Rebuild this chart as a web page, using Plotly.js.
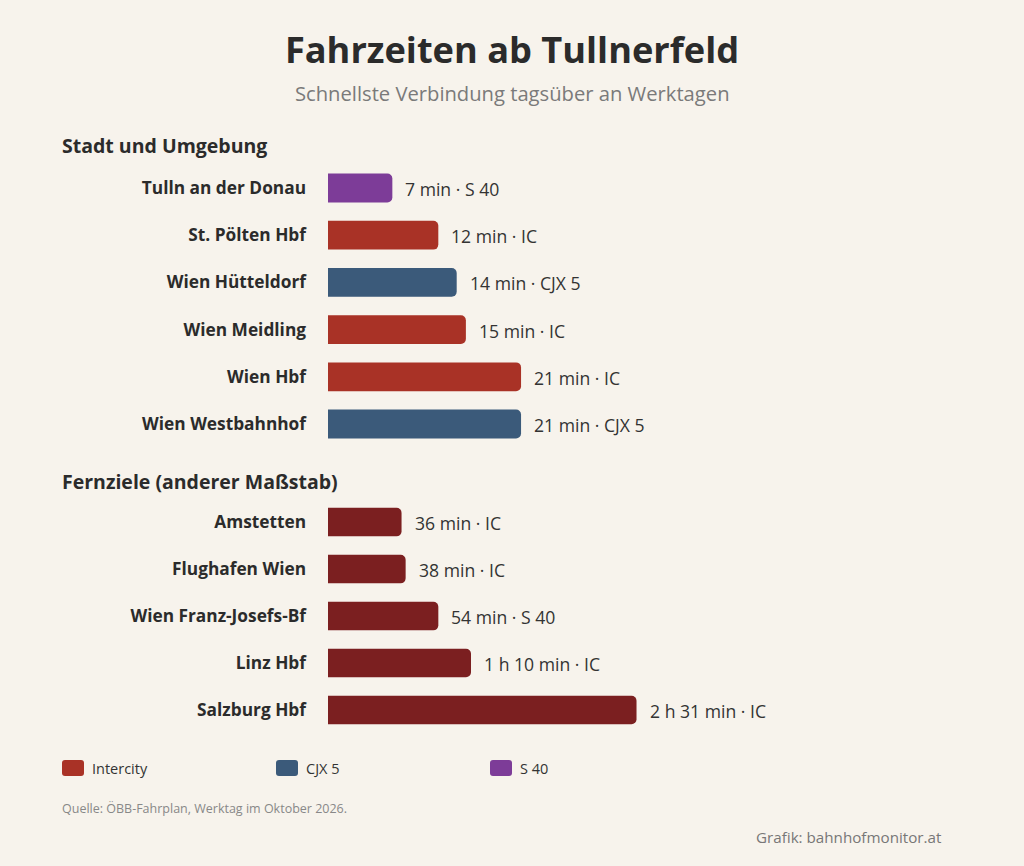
<!DOCTYPE html>
<html>
<head>
<meta charset="utf-8">
<script src="https://cdn.plot.ly/plotly-3.0.1.min.js"></script>
<style>
  html, body { margin: 0; padding: 0; background: #f7f3ec; }
  #chart { width: 1024px; height: 866px; }
</style>
</head>
<body>
<div id="chart"></div>
<script>
// Stations near Tullnerfeld: fastest weekday connection in minutes
const nearStations = ["Tulln an der Donau", "St. Pölten Hbf", "Wien Hütteldorf", "Wien Meidling", "Wien Hbf", "Wien Westbahnhof"];
const nearMinutes = [7, 12, 14, 15, 21, 21];
const nearLines = ["S 40", "IC", "CJX 5", "IC", "IC", "CJX 5"];

// Long-distance destinations (own scale)
const farStations = ["Amstetten", "Flughafen Wien", "Wien Franz-Josefs-Bf", "Linz Hbf", "Salzburg Hbf"];
const farMinutes = [36, 38, 54, 70, 151];
const farLines = ["IC", "IC", "S 40", "IC", "IC"];

// Service types shown in the legend
const serviceCodes = ["IC", "CJX 5", "S 40"];
const serviceNames = ["Intercity", "CJX 5", "S 40"];
const serviceColors = ["#a93226", "#3b5a7a", "#7d3c98"];
const farColor = "#7b1f20";

const FONT = "Open Sans, Noto Sans, sans-serif";
const W = 1024, H = 866;
const px = x => x / W;
const py = y => 1 - y / H;

function fmtTime(m) {
  if (m >= 60) {
    const h = Math.floor(m / 60), r = m % 60;
    return h + " h " + r + " min";
  }
  return m + " min";
}

const traces = [];
serviceCodes.forEach((code, i) => {
  const ys = [], xs = [];
  nearStations.forEach((s, k) => {
    if (nearLines[k] === code) { ys.push(s); xs.push(nearMinutes[k]); }
  });
  traces.push({
    type: "bar", orientation: "h", x: xs, y: ys,
    xaxis: "x", yaxis: "y", name: serviceNames[i],
    width: 0.61, showlegend: false, hoverinfo: "skip",
    marker: { color: serviceColors[i], cornerradius: 5, line: { width: 0 } }
  });
});
traces.push({
  type: "bar", orientation: "h", x: farMinutes, y: farStations,
  xaxis: "x2", yaxis: "y2", name: "Fernziele",
  width: 0.61, showlegend: false, hoverinfo: "skip",
  marker: { color: farColor, cornerradius: 5, line: { width: 0 } }
});

const valueFont = { family: FONT, size: 17.6, color: "#333333" };
const annotations = [];
nearStations.forEach((s, k) => {
  annotations.push({
    x: nearMinutes[k], y: s, xref: "x", yref: "y",
    text: fmtTime(nearMinutes[k]) + " · " + nearLines[k],
    xanchor: "left", yanchor: "middle", xshift: 11, yshift: -1, showarrow: false,
    font: valueFont
  });
});
farStations.forEach((s, k) => {
  annotations.push({
    x: farMinutes[k], y: s, xref: "x2", yref: "y2",
    text: fmtTime(farMinutes[k]) + " · " + farLines[k],
    xanchor: "left", yanchor: "middle", xshift: 11, yshift: -1, showarrow: false,
    font: valueFont
  });
});

// Section headings, subtitle and footer
annotations.push(
  { x: px(512), y: py(93), xref: "paper", yref: "paper", text: "Schnellste Verbindung tagsüber an Werktagen",
    xanchor: "center", yanchor: "middle", showarrow: false, font: { family: FONT, size: 20.2, color: "#7a7a7a" } },
  { x: px(60), y: py(146), xref: "paper", yref: "paper", text: "Stadt und Umgebung",
    xanchor: "left", yanchor: "middle", showarrow: false, font: { family: FONT, size: 19.5, color: "#2b2b2b", weight: "bold" } },
  { x: px(60), y: py(481), xref: "paper", yref: "paper", text: "Fernziele (anderer Maßstab)",
    xanchor: "left", yanchor: "middle", showarrow: false, font: { family: FONT, size: 19.5, color: "#2b2b2b", weight: "bold" } },
  { x: px(60), y: py(808), xref: "paper", yref: "paper", text: "Quelle: ÖBB-Fahrplan, Werktag im Oktober 2026.",
    xanchor: "left", yanchor: "middle", showarrow: false, font: { family: FONT, size: 12.5, color: "#888888" } },
  { x: px(944), y: py(837), xref: "paper", yref: "paper", text: "Grafik: bahnhofmonitor.at",
    xanchor: "right", yanchor: "middle", showarrow: false, font: { family: FONT, size: 15.2, color: "#777777" } }
);

// Legend: rounded swatches with labels
const shapes = [];
serviceNames.forEach((name, i) => {
  const x0 = 62 + i * 214, x1 = x0 + 22, y0 = 760, y1 = 776, r = 3;
  const path = [
    "M", px(x0 + r), py(y0),
    "L", px(x1 - r), py(y0),
    "Q", px(x1), py(y0), px(x1), py(y0 + r),
    "L", px(x1), py(y1 - r),
    "Q", px(x1), py(y1), px(x1 - r), py(y1),
    "L", px(x0 + r), py(y1),
    "Q", px(x0), py(y1), px(x0), py(y1 - r),
    "L", px(x0), py(y0 + r),
    "Q", px(x0), py(y0), px(x0 + r), py(y0), "Z"
  ].join(" ");
  shapes.push({ type: "path", xref: "paper", yref: "paper", path: path,
    fillcolor: serviceColors[i], line: { width: 0 } });
  annotations.push({ x: px(x1 + 6), y: py(768), xref: "paper", yref: "paper", text: name,
    xanchor: "left", yanchor: "middle", showarrow: false,
    font: { family: FONT, size: 14.5, color: "#333333" } });
});

const axisY = {
  type: "category", showgrid: false, zeroline: false, showline: false,
  ticks: "", ticklabelstandoff: 21, fixedrange: true,
  tickfont: { family: FONT, size: 17.3, color: "#2b2b2b", weight: "bold" }
};

const layout = {
  width: W, height: H,
  margin: { l: 0, r: 0, t: 0, b: 0 },
  paper_bgcolor: "#f7f3ec", plot_bgcolor: "rgba(0,0,0,0)",
  barmode: "overlay", showlegend: false,
  title: {
    text: "Fahrzeiten ab Tullnerfeld", x: 0.5, xanchor: "center",
    y: py(50), yanchor: "middle", yref: "paper",
    font: { family: FONT, size: 36.2, color: "#2b2b2b", weight: "bold" }
  },
  xaxis: { domain: [px(328), px(1000)], range: [0, 73.1], visible: false, anchor: "y", fixedrange: true },
  xaxis2: { domain: [px(328), px(1000)], range: [0, 328.9], visible: false, anchor: "y2", fixedrange: true },
  yaxis: Object.assign({}, axisY, {
    domain: [py(447.6), py(164.4)], anchor: "x",
    categoryorder: "array", categoryarray: nearStations, range: [nearStations.length - 0.5, -0.5]
  }),
  yaxis2: Object.assign({}, axisY, {
    domain: [py(733.5), py(498.5)], anchor: "x2",
    categoryorder: "array", categoryarray: farStations, range: [farStations.length - 0.5, -0.5]
  }),
  annotations: annotations,
  shapes: shapes
};

Plotly.newPlot("chart", traces, layout, { displayModeBar: false, staticPlot: true });
</script>
</body>
</html>
